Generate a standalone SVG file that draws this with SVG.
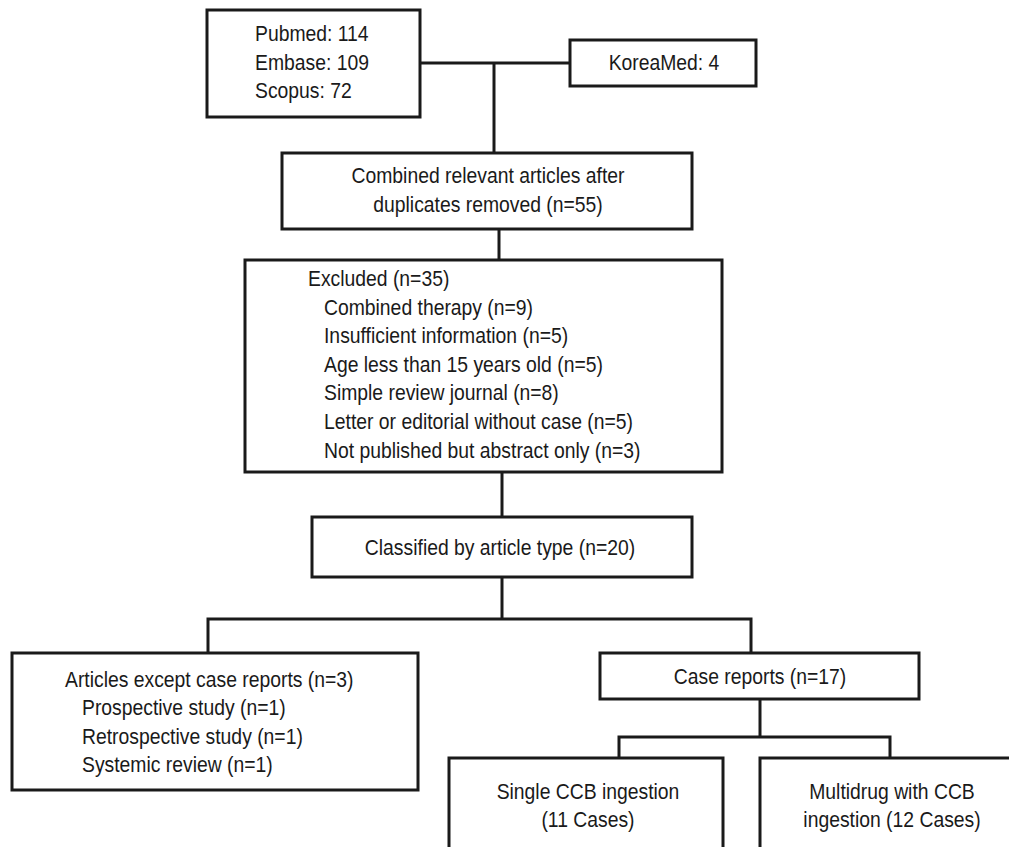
<svg xmlns="http://www.w3.org/2000/svg" width="1009" height="847" viewBox="0 0 1009 847">
<style>
.box{fill:#fff;stroke:#1a1a1a;stroke-width:3}
.con{fill:none;stroke:#1a1a1a;stroke-width:3;stroke-linejoin:miter}
text{font-family:"Liberation Sans",Arial,sans-serif;font-size:21.5px;fill:#1a1a1a}
.c{text-anchor:middle}
</style>
<rect width="1009" height="847" fill="#fff"/>
<g id="connectors">
<path class="con" d="M420,63 H570"/>
<path class="con" d="M494,63 V153"/>
<path class="con" d="M499,229 V260"/>
<path class="con" d="M502,472 V517"/>
<path class="con" d="M502,577 V619"/>
<path class="con" d="M208,653 V619 H751 V653"/>
<path class="con" d="M760,699 V737"/>
<path class="con" d="M619,758 V737 H890 V758"/>
</g>
<g id="sources">
<rect class="box" x="207" y="10" width="213" height="107"/>
<text transform="translate(255 41) scale(.9 1)">Pubmed: 114</text>
<text transform="translate(255 70) scale(.9 1)">Embase: 109</text>
<text transform="translate(255 98) scale(.9 1)">Scopus: 72</text>
</g>
<g id="koreamed">
<rect class="box" x="570" y="40" width="186" height="46"/>
<text class="c" transform="translate(664 70) scale(.9 1)">KoreaMed: 4</text>
</g>
<g id="combined">
<rect class="box" x="282" y="153" width="410" height="76"/>
<text class="c" transform="translate(488 183) scale(.9 1)">Combined relevant articles after</text>
<text class="c" transform="translate(488 212) scale(.9 1)">duplicates removed (n=55)</text>
</g>
<g id="excluded">
<rect class="box" x="245" y="260" width="477" height="212"/>
<text transform="translate(308 286) scale(.9 1)">Excluded (n=35)</text>
<text transform="translate(324 315) scale(.9 1)">Combined therapy (n=9)</text>
<text transform="translate(324 343) scale(.9 1)">Insufficient information (n=5)</text>
<text transform="translate(324 372) scale(.9 1)">Age less than 15 years old (n=5)</text>
<text transform="translate(324 400) scale(.9 1)">Simple review journal (n=8)</text>
<text transform="translate(324 429) scale(.9 1)">Letter or editorial without case (n=5)</text>
<text transform="translate(324 458) scale(.9 1)">Not published but abstract only (n=3)</text>
</g>
<g id="classified">
<rect class="box" x="312" y="517" width="380" height="60"/>
<text class="c" transform="translate(500 555) scale(.9 1)">Classified by article type (n=20)</text>
</g>
<g id="articles">
<rect class="box" x="12" y="653" width="406" height="137"/>
<text transform="translate(65 687) scale(.9 1)">Articles except case reports (n=3)</text>
<text transform="translate(82 715) scale(.9 1)">Prospective study (n=1)</text>
<text transform="translate(82 744) scale(.9 1)">Retrospective study (n=1)</text>
<text transform="translate(82 772) scale(.9 1)">Systemic review (n=1)</text>
</g>
<g id="casereports">
<rect class="box" x="600" y="653" width="319" height="46"/>
<text class="c" transform="translate(760 684) scale(.9 1)">Case reports (n=17)</text>
</g>
<g id="single">
<rect class="box" x="449" y="758" width="274" height="110"/>
<text class="c" transform="translate(588 799) scale(.9 1)">Single CCB ingestion</text>
<text class="c" transform="translate(588 827) scale(.9 1)">(11 Cases)</text>
</g>
<g id="multidrug">
<rect class="box" x="760" y="758" width="280" height="110"/>
<text class="c" transform="translate(892 799) scale(.9 1)">Multidrug with CCB</text>
<text class="c" transform="translate(892 827) scale(.9 1)">ingestion (12 Cases)</text>
</g>
</svg>
